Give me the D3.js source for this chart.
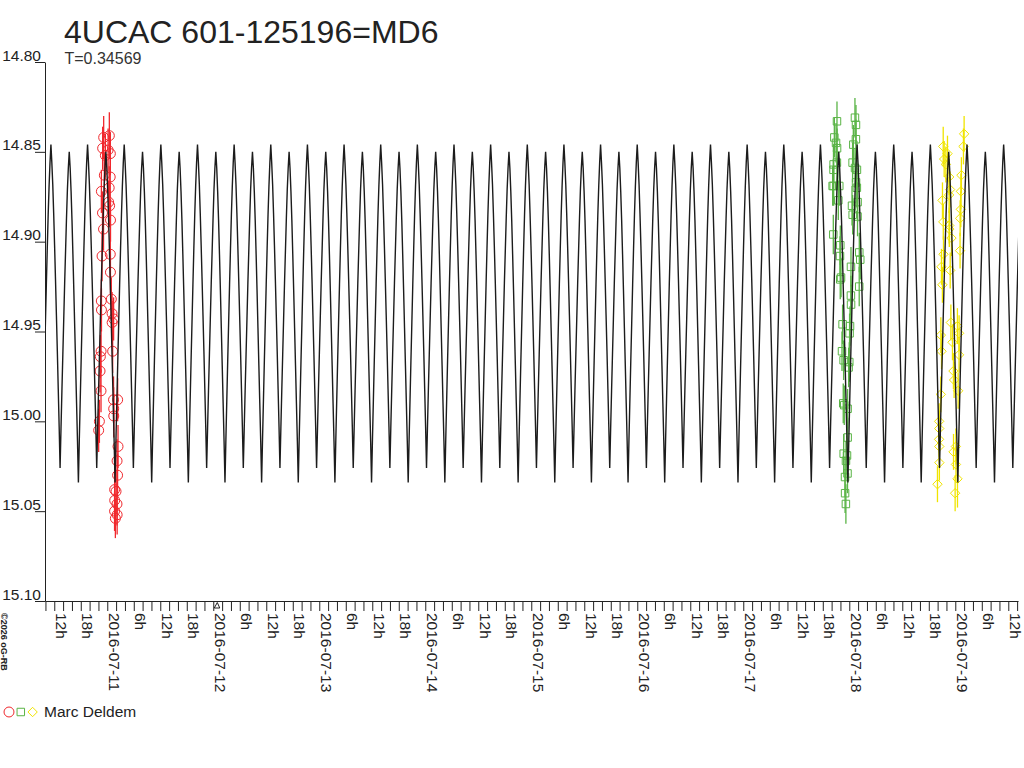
<!DOCTYPE html>
<html>
<head>
<meta charset="utf-8">
<script src="https://cdn.jsdelivr.net/npm/d3@7"></script>
<style>
  body { margin: 0; background: #fff; }
  svg { display: block; font-family: "Liberation Sans", Arial, sans-serif; }
</style>
</head>
<body>
<div id="chart"></div>
<script>
// Star, ephemeris and labels
const title = "4UCAC 601-125196=MD6";
const periodLabel = "T=0.34569";
const period = 0.34569;                 // days
const epoch = "2016-07-10T09:10";       // a deep minimum of the model curve
const observer = "Marc Deldem";
const credit = "©2026 oG-RB";
const timeDomain = ["2016-07-10T09:54", "2016-07-19T14:12"];
const magDomain = [14.80, 15.10];
const magTicks = [14.80, 14.85, 14.90, 14.95, 15.00, 15.05, 15.10];

// Model light curve over one period (phase from deep minimum)
const templatePhase = [0, 0.025, 0.05, 0.075, 0.1, 0.125, 0.15, 0.175, 0.2, 0.225,
  0.25, 0.275, 0.3, 0.325, 0.35, 0.375, 0.4, 0.425, 0.45, 0.475,
  0.5, 0.525, 0.55, 0.575, 0.6, 0.625, 0.65, 0.675, 0.7, 0.725,
  0.75, 0.775, 0.8, 0.825, 0.85, 0.875, 0.9, 0.925, 0.95, 0.975, 1];
const templateMag = [15.034, 15.010, 14.988, 14.966, 14.945, 14.924, 14.904, 14.885, 14.869, 14.856,
  14.846, 14.856, 14.868, 14.884, 14.902, 14.921, 14.941, 14.961, 14.982, 15.003,
  15.026, 15.004, 14.983, 14.963, 14.943, 14.923, 14.905, 14.887, 14.871, 14.859,
  14.850, 14.859, 14.872, 14.888, 14.907, 14.927, 14.948, 14.969, 14.990, 15.011, 15.034];

// Observations: [UT time, magnitude, error]
const night1 = [
  ["2016-07-10T23:11", 14.842, 0.012], ["2016-07-11T00:28", 14.841, 0.013], ["2016-07-10T22:57", 14.848, 0.012],
  ["2016-07-11T00:11", 14.849, 0.012], ["2016-07-10T23:34", 14.852, 0.012], ["2016-07-11T00:42", 14.851, 0.012],
  ["2016-07-10T23:20", 14.863, 0.012], ["2016-07-11T00:40", 14.864, 0.012], ["2016-07-10T22:40", 14.872, 0.012],
  ["2016-07-11T00:26", 14.870, 0.012], ["2016-07-11T00:19", 14.878, 0.012], ["2016-07-10T22:55", 14.884, 0.012],
  ["2016-07-11T00:32", 14.880, 0.012], ["2016-07-11T00:44", 14.888, 0.012], ["2016-07-10T23:09", 14.893, 0.012],
  ["2016-07-10T22:49", 14.908, 0.014], ["2016-07-11T00:41", 14.907, 0.012], ["2016-07-11T00:43", 14.917, 0.012],
  ["2016-07-10T22:39", 14.933, 0.012], ["2016-07-11T00:55", 14.932, 0.012], ["2016-07-10T22:41", 14.938, 0.012],
  ["2016-07-11T01:05", 14.940, 0.012], ["2016-07-11T01:26", 14.943, 0.012], ["2016-07-11T01:06", 14.945, 0.012],
  ["2016-07-10T22:36", 14.961, 0.012], ["2016-07-11T01:13", 14.961, 0.012], ["2016-07-10T22:26", 14.964, 0.012],
  ["2016-07-10T22:22", 14.972, 0.012], ["2016-07-10T22:35", 14.983, 0.012], ["2016-07-11T02:21", 14.988, 0.012],
  ["2016-07-11T01:25", 14.988, 0.013], ["2016-07-11T01:27", 14.993, 0.012], ["2016-07-11T01:28", 14.997, 0.012],
  ["2016-07-10T22:13", 15.000, 0.012], ["2016-07-10T22:03", 15.005, 0.012], ["2016-07-11T02:26", 15.014, 0.012],
  ["2016-07-11T02:13", 15.022, 0.012], ["2016-07-11T02:20", 15.030, 0.012], ["2016-07-11T01:40", 15.038, 0.012],
  ["2016-07-11T01:59", 15.039, 0.012], ["2016-07-11T01:41", 15.044, 0.012], ["2016-07-11T02:12", 15.046, 0.012],
  ["2016-07-11T01:39", 15.050, 0.011], ["2016-07-11T02:14", 15.052, 0.011], ["2016-07-11T01:50", 15.054, 0.011]
];
const night2 = [
  ["2016-07-17T21:13", 14.833, 0.011], ["2016-07-18T01:17", 14.831, 0.011], ["2016-07-18T01:31", 14.835, 0.011],
  ["2016-07-17T20:37", 14.842, 0.011], ["2016-07-17T21:00", 14.845, 0.011], ["2016-07-17T21:14", 14.848, 0.011],
  ["2016-07-18T01:30", 14.843, 0.011], ["2016-07-18T00:55", 14.846, 0.011], ["2016-07-17T21:12", 14.856, 0.011],
  ["2016-07-17T20:27", 14.857, 0.011], ["2016-07-17T20:26", 14.860, 0.011], ["2016-07-18T00:45", 14.856, 0.011],
  ["2016-07-18T01:18", 14.859, 0.011], ["2016-07-18T01:44", 14.860, 0.011], ["2016-07-17T20:28", 14.869, 0.011],
  ["2016-07-17T21:44", 14.869, 0.011], ["2016-07-17T20:14", 14.869, 0.011], ["2016-07-18T01:32", 14.867, 0.011],
  ["2016-07-18T01:43", 14.870, 0.011], ["2016-07-17T21:31", 14.877, 0.011], ["2016-07-18T01:53", 14.878, 0.011],
  ["2016-07-18T00:37", 14.880, 0.011], ["2016-07-18T00:46", 14.885, 0.011], ["2016-07-18T01:52", 14.886, 0.011],
  ["2016-07-17T20:23", 14.896, 0.011], ["2016-07-17T21:58", 14.902, 0.011], ["2016-07-17T21:54", 14.908, 0.011],
  ["2016-07-18T02:16", 14.906, 0.011], ["2016-07-18T02:29", 14.910, 0.011], ["2016-07-18T00:23", 14.914, 0.011],
  ["2016-07-17T22:08", 14.920, 0.011], ["2016-07-17T21:57", 14.921, 0.011], ["2016-07-18T02:15", 14.925, 0.011],
  ["2016-07-18T00:22", 14.930, 0.011], ["2016-07-18T00:24", 14.935, 0.011], ["2016-07-17T22:29", 14.946, 0.011],
  ["2016-07-18T00:10", 14.947, 0.011], ["2016-07-18T00:04", 14.951, 0.011], ["2016-07-17T22:21", 14.961, 0.011],
  ["2016-07-17T22:43", 14.966, 0.011], ["2016-07-18T00:00", 14.967, 0.011], ["2016-07-17T23:51", 14.970, 0.011],
  ["2016-07-17T22:38", 14.990, 0.011], ["2016-07-17T22:52", 14.991, 0.011], ["2016-07-17T23:37", 14.993, 0.011],
  ["2016-07-17T23:38", 15.009, 0.011], ["2016-07-17T22:44", 15.018, 0.011], ["2016-07-17T23:29", 15.019, 0.011],
  ["2016-07-17T23:15", 15.022, 0.011], ["2016-07-17T23:36", 15.029, 0.011], ["2016-07-17T23:02", 15.031, 0.011],
  ["2016-07-17T23:03", 15.040, 0.011], ["2016-07-17T23:14", 15.046, 0.011]
];
const night3 = [
  ["2016-07-19T02:00", 14.840, 0.010], ["2016-07-19T01:51", 14.847, 0.010], ["2016-07-18T21:16", 14.847, 0.011],
  ["2016-07-18T22:14", 14.851, 0.010], ["2016-07-18T21:29", 14.854, 0.010], ["2016-07-18T21:52", 14.857, 0.010],
  ["2016-07-18T22:37", 14.864, 0.010], ["2016-07-19T01:23", 14.863, 0.010], ["2016-07-18T21:06", 14.877, 0.010],
  ["2016-07-18T22:50", 14.871, 0.010], ["2016-07-18T22:36", 14.874, 0.010], ["2016-07-19T01:16", 14.872, 0.010],
  ["2016-07-19T01:15", 14.882, 0.010], ["2016-07-19T01:06", 14.887, 0.010], ["2016-07-18T21:17", 14.889, 0.010],
  ["2016-07-18T22:38", 14.891, 0.010], ["2016-07-18T22:39", 14.893, 0.010], ["2016-07-18T23:08", 14.898, 0.010],
  ["2016-07-19T01:05", 14.905, 0.010], ["2016-07-18T21:20", 14.907, 0.010], ["2016-07-18T22:51", 14.916, 0.010],
  ["2016-07-18T20:52", 14.914, 0.010], ["2016-07-18T21:05", 14.924, 0.010], ["2016-07-18T23:00", 14.945, 0.010],
  ["2016-07-19T00:29", 14.947, 0.010], ["2016-07-18T20:44", 14.952, 0.010], ["2016-07-19T00:52", 14.951, 0.010],
  ["2016-07-18T23:22", 14.956, 0.010], ["2016-07-18T20:53", 14.961, 0.010], ["2016-07-19T00:51", 14.963, 0.010],
  ["2016-07-18T23:35", 14.972, 0.010], ["2016-07-18T23:44", 14.977, 0.010], ["2016-07-19T00:39", 14.983, 0.010],
  ["2016-07-18T20:43", 14.985, 0.010], ["2016-07-18T20:21", 15.000, 0.010], ["2016-07-18T20:22", 15.004, 0.010],
  ["2016-07-18T20:20", 15.010, 0.010], ["2016-07-18T20:23", 15.014, 0.010], ["2016-07-19T00:08", 15.014, 0.010],
  ["2016-07-18T23:36", 15.017, 0.010], ["2016-07-18T20:24", 15.023, 0.010], ["2016-07-19T00:09", 15.024, 0.010],
  ["2016-07-19T00:30", 15.032, 0.016], ["2016-07-18T19:58", 15.035, 0.010], ["2016-07-18T23:58", 15.040, 0.010]
];

// Chart frame
const width = 1024, height = 768;
const margin = { top: 62, right: 6, bottom: 167, left: 45 };
const textColor = "#222";

const parse = d3.utcParse("%Y-%m-%dT%H:%M");
const dayMs = 864e5;

const x = d3.scaleUtc().domain(timeDomain.map(parse))
    .range([margin.left, width - margin.right]);
const y = d3.scaleLinear().domain(magDomain)
    .range([margin.top, height - margin.bottom]);

// square diamond (rotated square)
const symbolRhomb = {
    draw(context, size) {
        const r = Math.sqrt(size / 2);
        context.moveTo(0, -r);
        context.lineTo(r, 0);
        context.lineTo(0, r);
        context.lineTo(-r, 0);
        context.closePath();
    }
};

const svg = d3.select("#chart").append("svg")
    .attr("width", width)
    .attr("height", height)
    .attr("viewBox", [0, 0, width, height]);

svg.append("clipPath").attr("id", "plot-clip")
  .append("rect")
    .attr("x", margin.left).attr("y", 0)
    .attr("width", width - margin.right - margin.left)
    .attr("height", height - margin.bottom);

// Titles
svg.append("text")
    .attr("x", 64).attr("y", 43)
    .attr("font-size", 32).attr("fill", textColor)
    .text(title);

svg.append("text")
    .attr("x", 64.5).attr("y", 64)
    .attr("font-size", 16).attr("fill", "#333")
    .text(periodLabel);

// Y axis (magnitudes, bright on top)
svg.append("g")
    .attr("transform", `translate(${margin.left},0)`)
    .call(d3.axisLeft(y).tickValues(magTicks).tickSize(10).tickSizeOuter(0)
        .tickFormat(d3.format(".2f")))
    .call(g => g.selectAll("line, path").attr("stroke", textColor))
    .call(g => g.selectAll("text")
        .attr("x", -4).attr("y", -2).attr("dy", 0)
        .attr("font-size", 15.5).attr("font-family", "Liberation Sans, Arial, sans-serif")
        .attr("fill", textColor));

// X axis: ticks every 2 h, labels every 6 h
const xAxis = d3.axisBottom(x)
    .ticks(d3.utcHour.every(2))
    .tickSize(10).tickSizeOuter(0)
    .tickFormat(d => {
        const h = d.getUTCHours();
        if (h % 6) return "";
        return h === 0 ? d3.utcFormat("%Y-%m-%d")(d) : h + "h";
    });

svg.append("g")
    .attr("transform", `translate(0,${height - margin.bottom})`)
    .call(xAxis)
    .call(g => g.selectAll("line, path").attr("stroke", textColor))
    .call(g => g.selectAll("text")
        .attr("transform", "rotate(90)")
        .attr("x", 12).attr("y", -1).attr("dy", 0)
        .attr("text-anchor", "start")
        .attr("font-size", 15.5).attr("font-family", "Liberation Sans, Arial, sans-serif")
        .attr("fill", textColor));

// small marker under the 2016-07-12 tick
const markX = x(parse("2016-07-12T00:00"));
svg.append("path")
    .attr("d", `M${markX + 1},${y(15.10) + 7} L${markX + 4},${y(15.10) + 1.5} L${markX + 6.5},${y(15.10) + 7} Z`)
    .attr("fill", "none").attr("stroke", textColor).attr("stroke-width", 1);

// Credit, vertical at the left
svg.append("text")
    .attr("transform", `translate(1,${y(15.10) + 12}) rotate(90)`)
    .attr("font-size", 9).attr("font-weight", "bold").attr("fill", textColor)
    .text(credit);

// Observations
const series = [
    { data: night1, color: "#f0282d", symbol: d3.symbolCircle, size: 78 },
    { data: night2, color: "#5ab446", symbol: d3.symbolSquare, size: 56 },
    { data: night3, color: "#f0e400", symbol: symbolRhomb, size: 44 }
];

const plot = svg.append("g").attr("clip-path", "url(#plot-clip)");

series.forEach(s => {
    const pts = s.data.map(d => ({ t: parse(d[0]), mag: d[1], err: d[2] }));

    plot.append("g").selectAll("line")
        .data(pts)
        .join("line")
        .attr("x1", d => x(d.t)).attr("x2", d => x(d.t))
        .attr("y1", d => y(d.mag - d.err)).attr("y2", d => y(d.mag + d.err))
        .attr("stroke", s.color).attr("stroke-width", 1.3);

    plot.append("g").selectAll("path")
        .data(pts)
        .join("path")
        .attr("transform", d => `translate(${x(d.t)},${y(d.mag)})`)
        .attr("d", d3.symbol(s.symbol, s.size))
        .attr("fill", "none").attr("stroke", s.color).attr("stroke-width", 1);
});

// Model curve folded by the period across the whole time range
const t0 = parse(epoch);
const [dStart, dEnd] = x.domain();
const nFirst = Math.floor((dStart - t0) / (period * dayMs)) - 1;
const nLast = Math.ceil((dEnd - t0) / (period * dayMs)) + 1;
const curve = [];
for (let n = nFirst; n <= nLast; n++) {
    templatePhase.forEach((p, i) => {
        if (i === 0 && n > nFirst) return;
        curve.push([new Date(+t0 + (n + p) * period * dayMs), templateMag[i]]);
    });
}

plot.append("path")
    .datum(curve)
    .attr("fill", "none")
    .attr("stroke", "#1c1c1c")
    .attr("stroke-width", 1.4)
    .attr("d", d3.line().x(d => x(d[0])).y(d => y(d[1])));

// Legend
const legend = svg.append("g").attr("transform", "translate(0,712)");
series.forEach((s, i) => {
    legend.append("path")
        .attr("transform", `translate(${9 + i * 11.8},0)`)
        .attr("d", d3.symbol(s.symbol, s.size))
        .attr("fill", "none").attr("stroke", s.color).attr("stroke-width", 1);
});
legend.append("text")
    .attr("x", 44).attr("y", 5)
    .attr("font-size", 15.5).attr("fill", textColor)
    .text(observer);
</script>
</body>
</html>
